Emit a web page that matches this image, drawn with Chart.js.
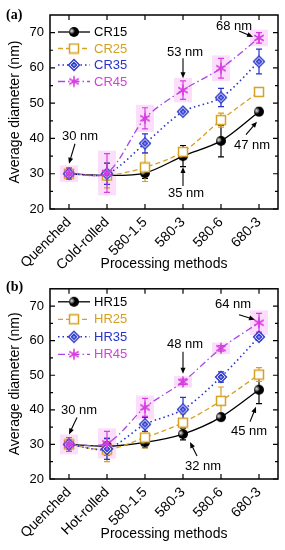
<!DOCTYPE html>
<html><head><meta charset="utf-8">
<script src="https://cdn.jsdelivr.net/npm/chart.js@4"></script>
<style>
html,body{margin:0;padding:0;background:#fff;}
.p{width:285px;height:275px;position:relative;}
canvas{display:block;}
</style></head><body>
<div class="p"><canvas id="ca" width="285" height="275"></canvas></div>
<div class="p"><canvas id="cb" width="285" height="275"></canvas></div>
<script>
// ---------- DATA ----------
const CATS_A = ['Quenched','Cold-rolled','580-1.5','580-3','580-6','680-3'];
const CATS_B = ['Quenched','Hot-rolled','580-1.5','580-3','580-6','680-3'];
const Y_TICKS = [20,30,40,50,60,70];

const CR15 = [30, 29.5, 30.2, 35, 39.3, 47.6];
const CR15_ERR = [1.5, 1, 1.5, 3, 4.5, 1];
const CR25 = [30, 29.5, 31.8, 36.2, 45.2, 53.2];
const CR25_ERR = [1.5, 3.5, 4, 1, 2, 1];
const CR35 = [30, 30, 38.6, 47.6, 51.6, 61.8];
const CR35_ERR = [1.5, 3, 2.7, 0.6, 2.6, 3.5];
const CR45 = [30, 30.2, 45.7, 53.7, 59.9, 68.5];
const CR45_ERR = [1.5, 5.5, 3, 2.6, 2.8, 1.5];

const HR15 = [30, 29.5, 30.6, 33, 37.9, 45.8];
const HR15_ERR = [1, 1, 1.5, 1.7, 1, 4];
const HR25 = [30, 28.5, 32, 36.3, 42.6, 50.2];
const HR25_ERR = [1.5, 3.5, 3, 2.5, 4, 2];
const HR35 = [30, 28.7, 35.8, 40.1, 49.5, 61.1];
const HR35_ERR = [1, 3, 2, 3.5, 1.5, 1];
const HR45 = [30, 30.3, 40.7, 48.1, 57.8, 65.2];
const HR45_ERR = [2, 3.5, 2.6, 0.8, 0.8, 2.7];

// annotation labels: [series index, category index, text]
const NOTES_A = [[3,0,'30 nm'],[0,3,'35 nm'],[0,5,'47 nm'],[3,3,'53 nm'],[3,5,'68 nm']];
const NOTES_B = [[3,0,'30 nm'],[0,3,'32 nm'],[0,5,'45 nm'],[3,3,'48 nm'],[3,5,'64 nm']];

// ---------- STYLE ----------
const FONT = 'Liberation Sans, Arial, sans-serif';
const BLACK = '#000000', ORANGE = '#D6A021', BLUE = '#2733CC', MAG = '#D93CE0', PURPLE = '#A848E6';

function mk(size, draw){ const c=document.createElement('canvas'); c.width=size; c.height=size; const g=c.getContext('2d'); draw(g,size/2); return c; }
const SPHERE = mk(12,(g,r)=>{
  g.beginPath(); g.arc(r,r,5,0,2*Math.PI); g.fillStyle='#000'; g.fill();
  const gr=g.createRadialGradient(r-2.2,r-1,0,r-2.2,r-1,3.2);
  gr.addColorStop(0,'rgba(255,255,255,0.95)'); gr.addColorStop(1,'rgba(255,255,255,0)');
  g.fillStyle=gr; g.beginPath(); g.arc(r,r,5,0,2*Math.PI); g.fill();
});
const SQUARE = mk(12,(g,r)=>{ g.fillStyle='#fff'; g.fillRect(1.5,1.5,9,9); g.strokeStyle=ORANGE; g.lineWidth=1.5; g.strokeRect(1.5,1.5,9,9); });
const DIAM = mk(14,(g,r)=>{
  const d=(s)=>{g.beginPath(); g.moveTo(r,r-s); g.lineTo(r+s,r); g.lineTo(r,r+s); g.lineTo(r-s,r); g.closePath();};
  d(5.5); g.fillStyle='#fff'; g.fill(); g.strokeStyle=BLUE; g.lineWidth=1.3; g.stroke();
  d(2.6); g.fillStyle='#8a90e8'; g.fill(); g.stroke();
});
const AST = mk(14,(g,r)=>{
  g.strokeStyle=MAG; g.lineWidth=1.6; g.beginPath();
  [90,30,150].forEach(a=>{ const t=a*Math.PI/180, l=5.5; g.moveTo(r+l*Math.cos(t), r-l*Math.sin(t)); g.lineTo(r-l*Math.cos(t), r+l*Math.sin(t)); });
  g.stroke();
});

const deco = {
  id:'deco',
  beforeDatasetsDraw(chart){
    const {ctx, chartArea:a, scales:{x,y}} = chart;
    const cfg = chart.options.plugins.deco;
    ctx.save();
    ctx.beginPath(); ctx.rect(a.left,a.top,a.right-a.left,a.bottom-a.top); ctx.clip();
    chart.data.datasets.forEach((ds,k)=>{
      if(!cfg.shade[k]) return;
      ds.data.forEach((v,i)=>{
        const e=cfg.err[k][i], px=x.getPixelForValue(i);
        const t=y.getPixelForValue(v+e), b=y.getPixelForValue(v-e);
        ctx.fillStyle='rgba(250,195,250,0.55)';
        ctx.fillRect(px-9, t-3, 18, b-t+6);
      });
    });
    chart.data.datasets.forEach((ds,k)=>{
      ctx.strokeStyle=cfg.ecol[k]; ctx.lineWidth=1.2; ctx.setLineDash([]);
      ds.data.forEach((v,i)=>{
        const e=cfg.err[k][i], px=x.getPixelForValue(i);
        const t=y.getPixelForValue(v+e), b=y.getPixelForValue(v-e);
        ctx.beginPath(); ctx.moveTo(px,t); ctx.lineTo(px,b);
        ctx.moveTo(px-3,t); ctx.lineTo(px+3,t); ctx.moveTo(px-3,b); ctx.lineTo(px+3,b); ctx.stroke();
      });
    });
    ctx.restore();
  },
  afterDraw(chart){
    const {ctx, chartArea:a, scales:{x,y}} = chart;
    const cfg = chart.options.plugins.deco;
    ctx.save();
    // frame
    ctx.strokeStyle='#000'; ctx.lineWidth=1.5; ctx.setLineDash([]);
    ctx.strokeRect(a.left,a.top,a.right-a.left,a.bottom-a.top);
    // inward ticks
    ctx.lineWidth=1.2; ctx.beginPath();
    Y_TICKS.forEach(v=>{
      const py=y.getPixelForValue(v);
      ctx.moveTo(a.left,py); ctx.lineTo(a.left+5,py); ctx.moveTo(a.right,py); ctx.lineTo(a.right-5,py);
      const m=v+5; if(m<75){ const pm=y.getPixelForValue(m); ctx.moveTo(a.left,pm); ctx.lineTo(a.left+3,pm); ctx.moveTo(a.right,pm); ctx.lineTo(a.right-3,pm);}
    });
    x.ticks.forEach((t,i)=>{ const px=x.getPixelForValue(i); ctx.moveTo(px,a.bottom); ctx.lineTo(px,a.bottom-5); ctx.moveTo(px,a.top); ctx.lineTo(px,a.top+5); });
    ctx.stroke();
    // legend
    const L = cfg.legend;
    chart.data.datasets.forEach((ds,k)=>{
      const ly = a.top + L.y0 + k*L.dy, lx = a.left + 8;
      ctx.strokeStyle=ds.borderColor; ctx.lineWidth=ds.borderWidth; ctx.setLineDash(ds.borderDash||[]);
      ctx.beginPath(); ctx.moveTo(lx,ly); ctx.lineTo(lx+32,ly); ctx.stroke(); ctx.setLineDash([]);
      const im=ds.pointStyle; ctx.drawImage(im, lx+16-im.width/2, ly-im.height/2);
      ctx.fillStyle=cfg.tcol[k]; ctx.font='13px '+FONT; ctx.textAlign='left'; ctx.textBaseline='middle';
      ctx.fillText(ds.label, lx+36, ly+0.5);
    });
    // annotations
    ctx.fillStyle='#000'; ctx.strokeStyle='#000'; ctx.lineWidth=1.1;
    cfg.notes.forEach((n,j)=>{
      const [k,i,txt]=n, g=cfg.geom[j];
      const px=x.getPixelForValue(i), py=y.getPixelForValue(chart.data.datasets[k].data[i]);
      const tx=px+g[0], ty=py+g[1], ax=px+g[2], ay=py+g[3], bx=px+g[4], by=py+g[5];
      ctx.font='13px '+FONT; ctx.textAlign='center'; ctx.textBaseline='middle';
      ctx.fillText(txt, tx, ty);
      const ang=Math.atan2(by-ay,bx-ax), hl=6, hw=2.5;
      ctx.beginPath(); ctx.moveTo(ax,ay); ctx.lineTo(bx-Math.cos(ang)*hl*0.8, by-Math.sin(ang)*hl*0.8); ctx.stroke();
      ctx.beginPath(); ctx.moveTo(bx,by);
      ctx.lineTo(bx-hl*Math.cos(ang)+hw*Math.sin(ang), by-hl*Math.sin(ang)-hw*Math.cos(ang));
      ctx.lineTo(bx-hl*Math.cos(ang)-hw*Math.sin(ang), by-hl*Math.sin(ang)+hw*Math.cos(ang));
      ctx.closePath(); ctx.fill();
    });
    // panel label
    ctx.fillStyle='#000'; ctx.font='bold 14px Liberation Serif, Times New Roman, serif'; ctx.textAlign='left'; ctx.textBaseline='middle';
    ctx.fillText(cfg.panel, 6, cfg.panelY);
    ctx.restore();
  }
};

function makeChart(id, cats, series, names, errs, notes, geom, p){
  const lineCols=[BLACK, ORANGE, BLUE, PURPLE];
  const textCols=[BLACK, ORANGE, BLUE, MAG];
  const styles=[SPHERE, SQUARE, DIAM, AST];
  const dashes=[[], [5,3], [1.5,3], [7,3,1.5,3]];
  const widths=[1.3, 1.3, 1.6, 1.3];
  const datasets = series.map((d,k)=>({
    label:names[k], data:d, borderColor:lineCols[k], borderWidth:widths[k], borderDash:dashes[k],
    pointStyle:styles[k], pointRadius:5, tension:0.3, fill:false, order:3-k
  }));
  return new Chart(document.getElementById(id), {
    type:'line',
    data:{labels:cats, datasets},
    plugins:[deco],
    options:{
      responsive:false, animation:false, devicePixelRatio:1,
      layout:{padding:{top:p.top, right:7, left:0, bottom:0}},
      plugins:{
        legend:{display:false}, tooltip:{enabled:false},
        deco:{err:errs, ecol:[BLACK, ORANGE, BLUE, MAG], tcol:textCols, shade:[false,false,false,true],
              notes, geom, legend:p.legend, panel:p.panel, panelY:p.panelY}
      },
      scales:{
        x:{type:'category', offset:true, grid:{display:false, drawTicks:false}, border:{display:false},
           ticks:{color:'#000', font:{size:14, family:FONT}, minRotation:45, maxRotation:45, padding:5, autoSkip:false},
           title:{display:true, text:'Processing methods', color:'#000', font:{size:14, family:FONT}, padding:{top:0, bottom:p.titlePad}},
           afterFit(s){ s.height = p.xh; }},
        y:{min:20, max:75, grid:{display:false, drawTicks:false}, border:{display:false},
           afterBuildTicks(s){ s.ticks = Y_TICKS.map(v=>({value:v})); },
           ticks:{color:'#000', font:{size:13, family:FONT}, padding:6},
           title:{display:true, text:'Average diameter (nm)', color:'#000', font:{size:14, family:FONT}, padding:{top:7, bottom:0}},
           afterFit(s){ s.width = 50; }}
      }
    }
  });
}

// geometry offsets relative to the anchored data point: [textDx,textDy, tailDx,tailDy, tipDx,tipDy]
makeChart('ca', CATS_A, [CR15,CR25,CR35,CR45], ['CR15','CR25','CR35','CR45'],
  [CR15_ERR,CR25_ERR,CR35_ERR,CR45_ERR], NOTES_A,
  [[11,-37, 6,-30, 0,-10],[3,37, 0,30, 0,11],[-7,34, -13,23, -2,10],[2,-38, 0,-32, 0,-12],[-25,-12, -20,-7, -6,-1]],
  {top:15, xh:66, titlePad:2, legend:{y0:17, dy:16.5}, panel:'(a)', panelY:15});
makeChart('cb', CATS_B, [HR15,HR25,HR35,HR45], ['HR15','HR25','HR35','HR45'],
  [HR15_ERR,HR25_ERR,HR35_ERR,HR45_ERR], NOTES_B,
  [[10,-34, 8,-27, 0,-10],[20,32, 14,22, 7,8],[-10,42, -9,32, -3,17],[2,-37, 0,-30, 0,-8],[-26,-18, -20,-8, -4,-3]],
  {top:13, xh:71, titlePad:7, legend:{y0:13, dy:17.5}, panel:'(b)', panelY:12});
</script>
</body></html>
